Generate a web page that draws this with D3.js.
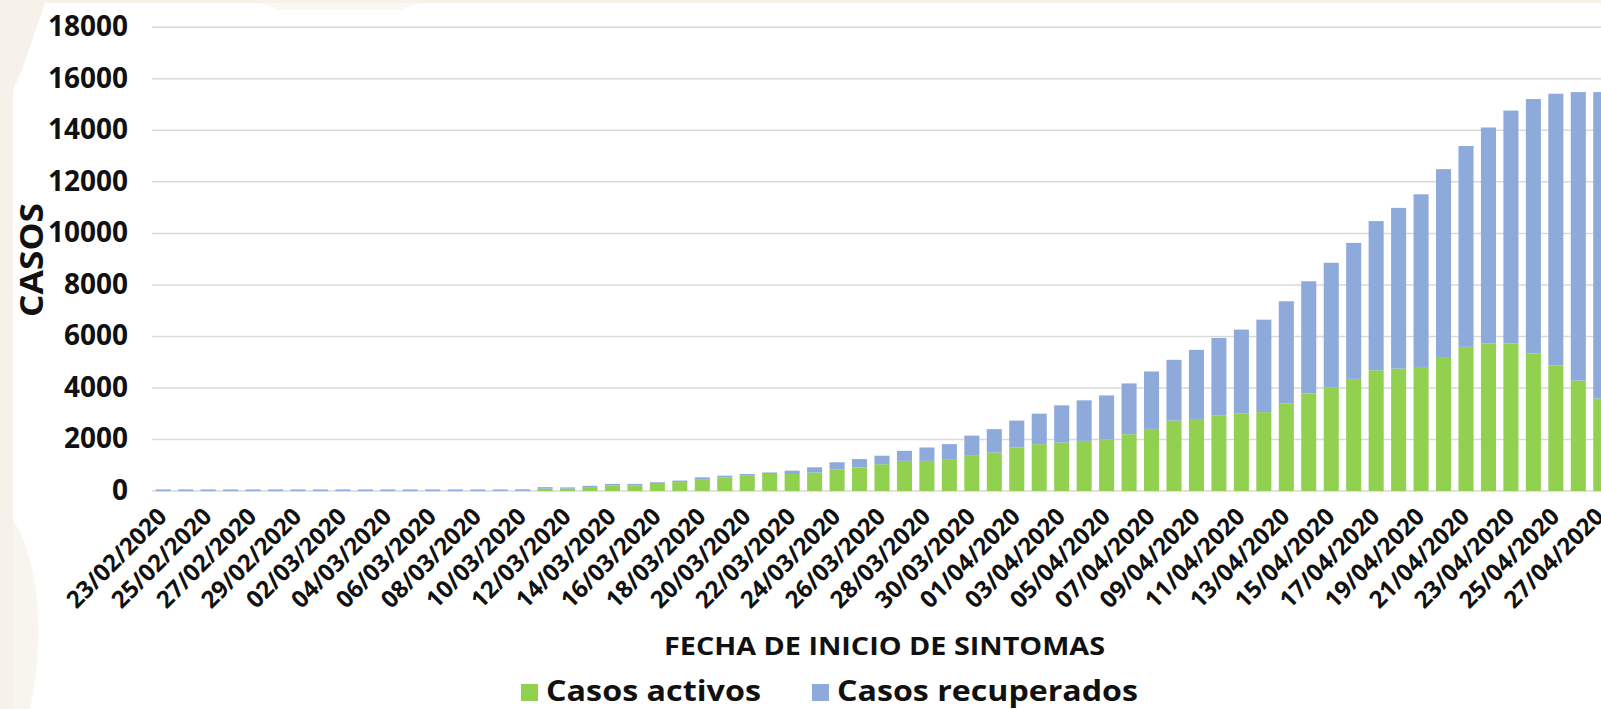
<!DOCTYPE html>
<html>
<head>
<meta charset="utf-8">
<script src="https://cdn.jsdelivr.net/npm/d3@7"></script>
<style>
  html, body { margin: 0; padding: 0; background: #ffffff; overflow: hidden; }
  svg { display: block; }
  text { font-family: "Open Sans", "Noto Sans", sans-serif; font-weight: 700; fill: #111; }
</style>
</head>
<body>
<svg id="chart" width="1601" height="709"></svg>
<script>
const fechas = [
  "23/02/2020","24/02/2020","25/02/2020","26/02/2020","27/02/2020","28/02/2020","29/02/2020",
  "01/03/2020","02/03/2020","03/03/2020","04/03/2020","05/03/2020","06/03/2020","07/03/2020",
  "08/03/2020","09/03/2020","10/03/2020","11/03/2020","12/03/2020","13/03/2020","14/03/2020",
  "15/03/2020","16/03/2020","17/03/2020","18/03/2020","19/03/2020","20/03/2020","21/03/2020",
  "22/03/2020","23/03/2020","24/03/2020","25/03/2020","26/03/2020","27/03/2020","28/03/2020",
  "29/03/2020","30/03/2020","31/03/2020","01/04/2020","02/04/2020","03/04/2020","04/04/2020",
  "05/04/2020","06/04/2020","07/04/2020","08/04/2020","09/04/2020","10/04/2020","11/04/2020",
  "12/04/2020","13/04/2020","14/04/2020","15/04/2020","16/04/2020","17/04/2020","18/04/2020",
  "19/04/2020","20/04/2020","21/04/2020","22/04/2020","23/04/2020","24/04/2020","25/04/2020",
  "26/04/2020","27/04/2020"
];

const casosActivos = [
  0,0,0,0,0,0,0,
  0,0,0,0,0,0,0,
  0,5,5,90,90,150,215,
  210,275,345,460,530,595,660,
  660,720,845,915,1040,1170,1170,
  1235,1365,1490,1689,1817,1882,1946,
  2011,2204,2410,2733,2797,2939,3003,
  3062,3390,3788,4032,4353,4687,4751,
  4815,5200,5598,5727,5727,5341,4879,
  4289,3595
];

const casosRecuperados = [
  60,60,60,60,60,60,60,
  60,60,60,60,60,60,60,
  60,55,60,60,50,50,60,
  65,65,60,70,65,65,60,
  130,200,270,325,330,390,520,
  585,785,910,1044,1186,1444,1573,
  1701,1972,2230,2359,2681,3003,3262,
  3589,3975,4353,4828,5277,5790,6240,
  6702,7293,7794,8384,9039,9874,10542,
  11196,11890
];

const yTicks = [0,2000,4000,6000,8000,10000,12000,14000,16000,18000];
const series = ["Casos activos", "Casos recuperados"];
const colores = ["#92d050", "#8eaadb"];

const svg = d3.select("#chart");

// background decoration (beige page behind the white chart area)
svg.append("rect").attr("x",0).attr("y",0).attr("width",1601).attr("height",709).attr("fill","#f6f2e9");
svg.append("rect").attr("x",13).attr("y",3).attr("width",1601).attr("height",709).attr("fill","#ffffff");
svg.append("path").attr("d","M13,3 L45,3 L22,70 L13,90 Z").attr("fill","#f6f2e9");
svg.append("path").attr("d","M13,520 C40,560 45,640 30,709 L13,709 Z").attr("fill","#f8f5ee");
svg.append("path").attr("d","M260,3 L420,3 L400,10 L280,10 Z").attr("fill","#faf8f2");

const data = fechas.map((f,i) => ({fecha: f, "Casos activos": casosActivos[i], "Casos recuperados": casosRecuperados[i]}));
const stack = d3.stack().keys(series)(data);

const x = d3.scaleBand().domain(fechas).range([152, 1612]).paddingInner(0.33).paddingOuter(0.165);
const y = d3.scaleLinear().domain([0, 18000]).range([491, 27.3]);

// gridlines
svg.append("g").selectAll("line").data(yTicks).join("line")
  .attr("x1", 152).attr("x2", 1612)
  .attr("y1", d => y(d)).attr("y2", d => y(d))
  .attr("stroke", "#d9d9d9").attr("stroke-width", 1.5);

// y tick labels
svg.append("g").selectAll("text").data(yTicks).join("text")
  .attr("x", 128).attr("y", d => y(d) - 2)
  .attr("text-anchor", "end").attr("dominant-baseline", "central")
  .style("font-size", "28px")
  .text(d => d);

// bars
svg.append("g").selectAll("g").data(stack).join("g")
  .attr("fill", (d,i) => colores[i])
  .selectAll("rect").data(d => d).join("rect")
  .attr("x", d => x(d.data.fecha))
  .attr("width", x.bandwidth())
  .attr("y", d => y(d[1]))
  .attr("height", d => y(d[0]) - y(d[1]));

// x tick labels (every second date)
svg.append("g").selectAll("text").data(fechas.filter((d,i) => i % 2 === 0)).join("text")
  .attr("transform", d => `translate(${x(d) + x.bandwidth()/2 + 5},518) rotate(-45)`)
  .attr("text-anchor", "end")
  .style("font-size", "24px")
  .text(d => d);

// axis titles
svg.append("text")
  .attr("x", 884.5).attr("y", 655)
  .attr("text-anchor", "middle")
  .attr("textLength", 441).attr("lengthAdjust", "spacingAndGlyphs")
  .style("font-size", "25px")
  .text("FECHA DE INICIO DE SINTOMAS");

svg.append("text")
  .attr("transform", "translate(43,260) rotate(-90)")
  .attr("text-anchor", "middle")
  .attr("textLength", 114).attr("lengthAdjust", "spacingAndGlyphs")
  .style("font-size", "33px")
  .text("CASOS");

// legend
const legendPos = [{sx: 521, tx: 546, tl: 215}, {sx: 812, tx: 837, tl: 301}];
const lg = svg.append("g").selectAll("g").data(series).join("g");
lg.append("rect")
  .attr("x", (d,i) => legendPos[i].sx).attr("y", 684)
  .attr("width", 17).attr("height", 17)
  .attr("fill", (d,i) => colores[i]);
lg.append("text")
  .attr("x", (d,i) => legendPos[i].tx).attr("y", 701)
  .attr("textLength", (d,i) => legendPos[i].tl).attr("lengthAdjust", "spacingAndGlyphs")
  .style("font-size", "29px")
  .text(d => d);
</script>
</body>
</html>
